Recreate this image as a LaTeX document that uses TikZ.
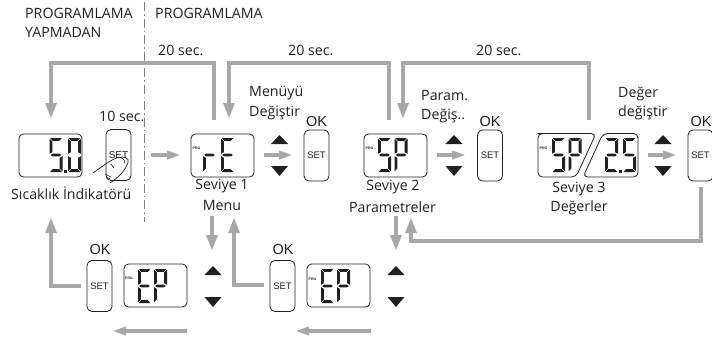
\documentclass[tikz,border=0pt]{standalone}
\usepackage{fontspec}
\setmainfont{Open Sans}
\newfontfamily\arialf{Liberation Sans}
\usetikzlibrary{arrows.meta}
\definecolor{arrgray}{RGB}{168,168,168}
\definecolor{ink}{RGB}{35,31,32}
\newcommand{\sga}{\fill (0.6,0)--(12.4,0)--(9.8,2.8)--(3.2,2.8)--cycle;}
\newcommand{\sgb}{\fill (13,0.6)--(13,15.8)--(10.2,14.2)--(10.2,3.4)--cycle;}
\newcommand{\sgc}{\fill (13,18.2)--(13,33.4)--(10.2,30.6)--(10.2,19.8)--cycle;}
\newcommand{\sgd}{\fill (0.6,34)--(12.4,34)--(9.8,31.2)--(3.2,31.2)--cycle;}
\newcommand{\sge}{\fill (0,18.2)--(0,33.4)--(2.8,30.6)--(2.8,19.8)--cycle;}
\newcommand{\sgf}{\fill (0,0.6)--(0,15.8)--(2.8,14.2)--(2.8,3.4)--cycle;}
\newcommand{\sgg}{\fill (1.2,17)--(3,15.6)--(10,15.6)--(11.8,17)--(10,18.4)--(3,18.4)--cycle;}
\newcommand{\dg}[3]{\begin{scope}[shift={(#1,#2)},ink]\foreach \s in {#3}{\csname sg\s\endcsname}\end{scope}}
\newcommand{\updown}[2]{\fill[ink] (#1-8.5,#2+9)--(#1,#2)--(#1+8.5,#2+9)--cycle;
  \fill[ink] (#1-8.5,#2+31)--(#1,#2+41)--(#1+8.5,#2+31)--cycle;}
\newcommand{\lcd}[3]{\node[lcdbox,anchor=north west] (#1) at (#2,#3) {};}
\newcommand{\btn}[4]{\node[btnbox,anchor=north west] (#1) at (#2,#3) {\arialf\fontsize{9.5}{9.5}\selectfont #4};}
\tikzset{
  lbl/.style={font=\fontsize{14.2}{16}\selectfont,text=ink,inner sep=0pt},
  oklbl/.style={font=\arialf\fontsize{14.5}{15}\selectfont,text=ink,inner sep=0pt},
  prg/.style={font=\arialf\bfseries\fontsize{3.5}{4}\selectfont,text=ink,inner sep=0pt},
  lcdbox/.style={draw=ink,line width=0.8pt,rounded corners=4.5pt,minimum width=63pt,minimum height=43pt,inner sep=0pt,outer sep=0pt},
  btnbox/.style={draw=ink,line width=0.8pt,rounded corners=5pt,minimum width=25pt,minimum height=51pt,inner sep=0pt,outer sep=0pt,text=ink},
  bigarrow/.style={draw=arrgray,line width=4.6pt,-{Triangle[length=16pt,width=10.5pt,fill=arrgray]}},
  smallarrow/.style={draw=arrgray,line width=3.8pt,-{Triangle[length=14pt,width=8pt,fill=arrgray]}},
}
\begin{document}
\begin{tikzpicture}[x=1pt,y=-1pt]
\useasboundingbox (0,0) rectangle (712,340);
\fill[white] (0,0) rectangle (712,340);
% divider
\coordinate (divtop) at (144,2);
\coordinate (divbot) at (144,222);
\draw[gray,line width=0.7pt,dash pattern=on 9pt off 3pt on 1.5pt off 3pt] (divtop) -- (divbot);
% headings
\node[lbl,anchor=west] (h1) at (25,13) {PROGRAMLAMA};
\node[lbl,anchor=west] (h2) at (25,32) {YAPMADAN};
\node[lbl,anchor=west] (h3) at (155,13) {PROGRAMLAMA};
\node[lbl,anchor=west] (t1) at (158,50) {20 sec.};
\node[lbl,anchor=west] (t2) at (288,50) {20 sec.};
\node[lbl,anchor=west] (t3) at (476,50) {20 sec.};
\node[lbl,anchor=west] (t4) at (99,116) {10 sec.};
% displays
\lcd{d1}{19}{134}
\lcd{d2}{191}{134}
\lcd{d3}{364}{134}
\lcd{d5}{124}{264}
\lcd{d6}{307}{264}
\draw[ink,line width=0.8pt,rounded corners=4.5pt] (596,133.5)--(542,133.5)--(538,133.5)--(538,177)--(576,177)--cycle;
\draw[ink,line width=0.8pt,rounded corners=4.5pt] (603,133.5)--(638,133.5)--(638,177)--(583,177)--cycle;
% digits
\dg{49.5}{138}{a,f,g,c,d}
\fill[ink] (64,170) rectangle (66.5,172.5);
\dg{68}{138}{a,b,c,d,e,f}
\dg{203}{138}{e,g}
\dg{221}{138}{a,f,g,e,d}
\dg{378}{138}{a,f,g,c,d}
\dg{394.5}{138}{a,b,f,g,e}
\dg{552}{138}{a,f,g,c,d}
\dg{568.5}{138}{a,b,f,g,e}
\dg{605}{138}{a,b,g,e,d}
\fill[ink] (619,170) rectangle (621.5,172.5);
\dg{623}{138}{a,f,g,c,d}
\dg{138}{269}{a,f,g,e,d}
\dg{154}{269}{a,b,f,g,e}
\dg{321}{269}{a,f,g,e,d}
\dg{337}{269}{a,b,f,g,e}
\node[prg] (p2) at (196.5,148) {PRG};
\node[prg] (p3) at (369.5,148) {PRG};
\node[prg] (p4) at (543.5,148) {PRG};
\node[prg] (p5) at (129,278) {PRG};
\node[prg] (p6) at (312.5,279) {PRG};
% buttons
\btn{b0}{106}{129.5}{}
\node[inner sep=0pt,text=ink,font=\arialf\fontsize{10}{10}\selectfont] (b0t) at (118.5,155) {SET};
\btn{b1}{304}{130}{SET}
\btn{b2}{477.5}{130}{SET}
\btn{b3}{688}{130}{SET}
\btn{b4}{87}{260.5}{SET}
\btn{b5}{270}{260.5}{SET}
\node[oklbl] (k1) at (316.5,122) {OK};
\node[oklbl] (k2) at (490,122) {OK};
\node[oklbl] (k3) at (701,122) {OK};
\node[oklbl] (k4) at (100,250) {OK};
\node[oklbl] (k5) at (283,250) {OK};
% hand
\draw[ink,line width=0.7pt,line join=round]
  (93,173) .. controls (100,168) and (108,162) .. (114,159)
  .. controls (119,156.5) and (126,156) .. (128,159.5)
  .. controls (129.5,163) and (124,171) .. (120,175)
  .. controls (117,178) and (113,181) .. (110,183);
\draw[ink,line width=0.6pt] (120,157.5) .. controls (123,158.5) and (125.5,160) .. (124.5,163);
\draw[ink,line width=0.6pt] (111,164) -- (114,168);
\draw[ink,line width=0.6pt] (105,174) -- (111,177);
\draw[ink,line width=0.6pt] (106,177) -- (110,179);
% up/down triangles
\updown{279.5}{135}
\updown{454}{135}
\updown{663}{135}
\updown{213}{266}
\updown{396}{266}
% captions
\node[lbl,anchor=west] (c0) at (11,193) {Sıcaklık İndikatörü};
\node[lbl] (c1) at (222,186) {Seviye 1};
\node[lbl] (c1b) at (222,205) {Menu};
\node[lbl] (c2) at (393,187) {Seviye 2};
\node[lbl] (c2b) at (392.5,207) {Parametreler};
\node[lbl] (c3) at (579,189) {Seviye 3};
\node[lbl] (c3b) at (579,208) {Değerler};
\node[lbl,anchor=west] (m1) at (249,93) {Menüyü};
\node[lbl,anchor=west] (m2) at (249,113) {Değiştir};
\node[lbl,anchor=west] (m3) at (421,96) {Param.};
\node[lbl,anchor=west] (m4) at (421,116) {Değiş..};
\node[lbl,anchor=west] (m5) at (618,94) {Değer};
\node[lbl,anchor=west] (m6) at (618,113) {değiştir};
% loops
\coordinate (top) at (0,63);
\coordinate (s1) at (214,120); \coordinate (e1) at (51,119);
\coordinate (s2) at (389,120); \coordinate (e2) at (229,119);
\coordinate (s3) at (589,120); \coordinate (e3) at (403,119);
\draw[bigarrow] (s1) -- (s1 |- top) -- (e1 |- top) -- (e1);
\draw[bigarrow] (s2) -- (s2 |- top) -- (e2 |- top) -- (e2);
\draw[bigarrow] (s3) -- (s3 |- top) -- (e3 |- top) -- (e3);
% horizontal small arrows
\coordinate (a1s) at (151,155); \coordinate (a1e) at (181,155);
\coordinate (a2s) at (264,155); \coordinate (a2e) at (293,155);
\coordinate (a3s) at (437,155); \coordinate (a3e) at (466,155);
\coordinate (a4s) at (648,155); \coordinate (a4e) at (677,155);
\draw[smallarrow] (a1s) -- (a1e);
\draw[smallarrow] (a2s) -- (a2e);
\draw[smallarrow] (a3s) -- (a3e);
\draw[smallarrow] (a4s) -- (a4e);
% bottom arrows
\coordinate (l1s) at (187,331); \coordinate (l1e) at (112,331);
\coordinate (l2s) at (371,331); \coordinate (l2e) at (295,331);
\draw[smallarrow] (l1s) -- (l1e);
\draw[smallarrow] (l2s) -- (l2e);
% lower connectors
\coordinate (v1s) at (212,216); \coordinate (v1e) at (212,251);
\coordinate (v2s) at (396,216); \coordinate (v2e) at (396,251);
\draw[bigarrow] (v1s) -- (v1e);
\draw[bigarrow] (v2s) -- (v2e);
\coordinate (u1s) at (81,286); \coordinate (u1e) at (51,217);
\coordinate (u2s) at (264,285); \coordinate (u2e) at (234,217);
\draw[bigarrow] (u1s) -- (u1s -| u1e) -- (u1e);
\draw[bigarrow] (u2s) -- (u2s -| u2e) -- (u2e);
\coordinate (r1s) at (701,187); \coordinate (r1c) at (701,241); \coordinate (r1e) at (411,217);
\draw[bigarrow] (r1s) -- (r1c) -- (r1c -| r1e) -- (r1e);
\end{tikzpicture}
\end{document}
